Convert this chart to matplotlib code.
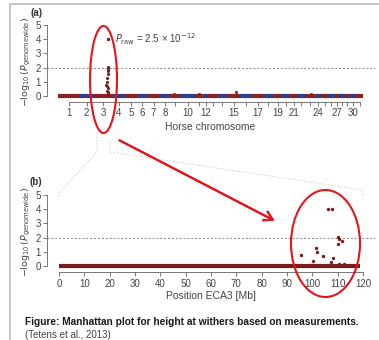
import numpy as np
import matplotlib.pyplot as plt
from matplotlib.patches import Ellipse
from matplotlib.lines import Line2D

# chromosome sizes as drawn in panel (a) (relative widths)
chrom_size = [161, 95, 146, 88, 88, 73, 95, 73, 73, 110, 58, 37, 66, 73, 95, 88,
              80, 73, 66, 58, 58, 51, 73, 51, 44, 51, 37, 37, 37, 44, 51]
chrom_labels = [1, 2, 3, 4, 5, 6, 7, 8, 10, 12, 15, 17, 19, 21, 24, 27, 30]

# ECA3 hits (position in Mb, -log10 P genome-wide), panel (b)
eca3_pos = [95.6, 100.4, 101.6, 102.0, 104.2, 106.2, 107.9, 108.0, 107.4,
            110.1, 110.7, 111.6, 110.3, 110.4, 112.4, 106.7]
eca3_val = [0.77, 0.35, 1.25, 1.02, 0.73, 4.0, 4.0, 0.54, 0.28,
            2.05, 1.9, 1.75, 1.55, 0.14, 0.14, 0.1]

# small bumps on other chromosomes, panel (a): (chromosome, local position, value)
other_chr = [9, 11, 15, 23]
other_pos = [29, 29, 66, 44]
other_val = [0.15, 0.15, 0.3, 0.15]

threshold = 2
eca3_len = 119

RED = '#8b2222'
BLUE = '#2f3f8c'
DOT = '#7a1c1c'
TXT = '#444444'
SPN = '#777777'

W, H = 379, 340
plt.rcParams['font.family'] = ['Liberation Sans', 'DejaVu Sans']

fig = plt.figure(figsize=(W / 100, H / 100), dpi=100)


def box(x0, x1, ytop, ybot):
    return [x0 / W, 1 - ybot / H, (x1 - x0) / W, (ybot - ytop) / H]


def style(ax, left_off):
    for s in ['top', 'right']:
        ax.spines[s].set_visible(False)
    ax.spines['left'].set_position(('outward', left_off))
    ax.spines['left'].set_bounds(0, 5)
    for s in ['left', 'bottom']:
        ax.spines[s].set_color(SPN)
        ax.spines[s].set_linewidth(0.7)
    ax.set_yticks(range(6))
    ax.tick_params(colors=SPN, labelcolor=TXT, labelsize=7, length=3, width=0.7, pad=1.5)
    ax.set_ylabel(r'$-\log_{10}(P_{\mathrm{genomewide}})$', fontsize=6.8, color=TXT, labelpad=2)
    ax.patch.set_alpha(0)


# ---- panel (a)
ax1 = fig.add_axes(box(58, 363, 23.6, 100.3))
starts = np.concatenate([[0], np.cumsum(chrom_size)[:-1]])
ends = np.cumsum(chrom_size)
centers = (starts + ends) / 2
total = ends[-1]
for i in range(len(chrom_size)):
    c = RED if i % 2 == 0 else BLUE
    ax1.plot([starts[i], ends[i]], [0, 0], color=c, lw=3, solid_capstyle='butt', clip_on=False)
chr3_start = starts[2]
ax1.scatter([chr3_start + p for p in eca3_pos], eca3_val, s=5, color=DOT, zorder=3, clip_on=False, lw=0)
ax1.scatter([starts[c - 1] + p for c, p in zip(other_chr, other_pos)], other_val,
            s=5, color=RED, zorder=3, clip_on=False, lw=0)
ax1.axhline(threshold, xmin=-0.036, xmax=1.039, color='#888888', lw=0.7, ls=(0, (2, 2)), clip_on=False)
ax1.set_xlim(0, total)
ax1.set_ylim(-0.3, 5.1)
style(ax1, 7.9)
ax1.spines['bottom'].set_position(('outward', 1))
ax1.spines['bottom'].set_bounds(centers[0], centers[-1])
ax1.set_xticks(centers)
ax1.set_xticklabels([str(i + 1) if (i + 1) in chrom_labels else '' for i in range(len(chrom_size))])
ax1.set_xlabel('Horse chromosome', fontsize=7.5, color=TXT, labelpad=3)
ax1.text(chr3_start + 158, 4.0, r'$P_{\mathrm{raw}}$ = 2.5 × 10$^{-12}$', fontsize=7,
         color=TXT, va='center', ha='left')

# ---- panel (b)
ax2 = fig.add_axes(box(59, 363, 193.6, 270.3))
ax2.plot([0, eca3_len], [0, 0], color=DOT, lw=3, solid_capstyle='butt', clip_on=False)
ax2.scatter(eca3_pos, eca3_val, s=6, color=DOT, zorder=3, clip_on=False, lw=0)
ax2.axhline(threshold, xmin=-0.04, xmax=1.04, color='#888888', lw=0.7, ls=(0, (2, 2)), clip_on=False)
ax2.set_xlim(0, 120)
ax2.set_ylim(-0.3, 5.1)
style(ax2, 8.6)
ax2.spines['bottom'].set_position(('outward', 1.5))
ax2.spines['bottom'].set_bounds(0, 120)
ax2.set_xticks(range(0, 121, 10))
ax2.set_xlabel('Position ECA3 [Mb]', fontsize=7.5, color=TXT, labelpad=2)

# panel letters
fig.text(30 / W, 1 - 13 / H, '(a)', fontsize=7, fontweight='bold', color='#333333', va='center')
fig.text(29 / W, 1 - 182 / H, '(b)', fontsize=7, fontweight='bold', color='#333333', va='center')

# zoom connector lines
for xs, ys in [([97, 97, 59, 59], [133, 152, 193, 198]),
               ([110, 110, 363, 363], [142, 152, 190, 196])]:
    fig.add_artist(Line2D([x / W for x in xs], [1 - y / H for y in ys], color='#d8d8d8',
                          lw=0.8, ls=(0, (1.5, 1.5))))

# slide frame
fig.add_artist(Line2D([10 / W, 10 / W, 1], [0, 1 - 4 / H, 1 - 4 / H], color='#bbbbbb', lw=1.2))

# red highlight marks
fig.add_artist(Ellipse((103.5 / W, 1 - 79.5 / H), 27 / W, 107 / H, fill=False, ec='#e8141b', lw=1.5,
                       transform=fig.transFigure))
fig.add_artist(Ellipse((325.5 / W, 1 - 243.5 / H), 69 / W, 107 / H, fill=False, ec='#e8141b', lw=1.5,
                       transform=fig.transFigure))
fig.add_artist(plt.annotate('', xy=(277 / W, 1 - 222 / H), xytext=(117 / W, 1 - 139 / H),
                            xycoords='figure fraction', textcoords='figure fraction',
                            arrowprops=dict(arrowstyle='->,head_length=0.6,head_width=0.35',
                                            color='#e8141b', lw=1.5)))

# caption
fig.text(25 / W, 1 - 322 / H, 'Figure: Manhattan plot for height at withers based on measurements.',
         fontsize=7.3, fontweight='bold', color='#1a1a1a', va='center', ha='left')
fig.text(25 / W, 1 - 335 / H, '(Tetens et al., 2013)', fontsize=7, color='#444444',
         va='center', ha='left')

fig.savefig('out.png', dpi=100)
